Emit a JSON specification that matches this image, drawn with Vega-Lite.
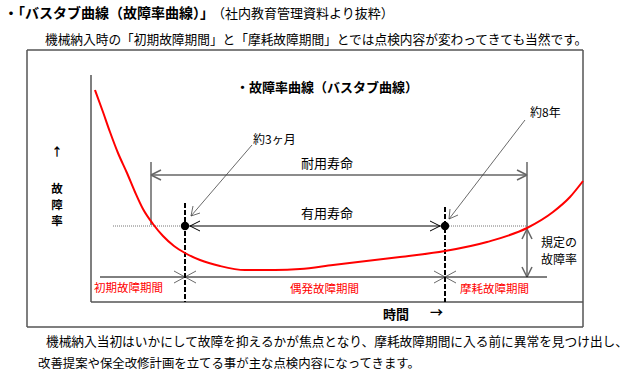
{
  "$schema": "https://vega.github.io/schema/vega-lite/v6.json",
  "width": 630,
  "height": 377,
  "padding": 0,
  "autosize": {"type": "fit", "contains": "padding"},
  "background": "white",
  "config": {"view": {"stroke": null}, "font": "Noto Sans CJK JP"},
  "datasets": {
    "frame": [
      {"x": 27, "y": 50, "x2": 583, "y2": 50},
      {"x": 27, "y": 50, "x2": 27, "y2": 327},
      {"x": 583, "y": 50, "x2": 583, "y2": 327},
      {"x": 27, "y": 327, "x2": 583, "y2": 327},
      {"x": 91, "y": 75, "x2": 91, "y2": 302},
      {"x": 91, "y": 302, "x2": 583, "y2": 302}
    ],
    "life": [
      {"x": 151, "y": 162, "x2": 151, "y2": 225},
      {"x": 151, "y": 175, "x2": 527, "y2": 175},
      {"x": 527, "y": 162, "x2": 527, "y2": 277},
      {"x": 151, "y": 175, "x2": 161, "y2": 170},
      {"x": 151, "y": 175, "x2": 161, "y2": 180},
      {"x": 527, "y": 175, "x2": 517, "y2": 170},
      {"x": 527, "y": 175, "x2": 517, "y2": 180},
      {"x": 527, "y": 229, "x2": 522, "y2": 239},
      {"x": 527, "y": 229, "x2": 532, "y2": 239},
      {"x": 527, "y": 277, "x2": 522, "y2": 267},
      {"x": 527, "y": 277, "x2": 532, "y2": 267}
    ],
    "thin": [
      {"x": 100, "y": 277, "x2": 547, "y2": 277},
      {"x": 185, "y": 226, "x2": 445, "y2": 226},
      {"x": 190, "y": 226, "x2": 200, "y2": 221},
      {"x": 190, "y": 226, "x2": 200, "y2": 231},
      {"x": 440, "y": 226, "x2": 430, "y2": 221},
      {"x": 440, "y": 226, "x2": 430, "y2": 231}
    ],
    "leaders": [
      {"x": 252, "y": 145, "x2": 191, "y2": 216},
      {"x": 191, "y": 216, "x2": 200, "y2": 213},
      {"x": 191, "y": 216, "x2": 193, "y2": 206},
      {"x": 525, "y": 120, "x2": 449, "y2": 219},
      {"x": 449, "y": 219, "x2": 458, "y2": 215},
      {"x": 449, "y": 219, "x2": 450, "y2": 209},
      {"x": 185, "y": 277, "x2": 174, "y2": 271},
      {"x": 185, "y": 277, "x2": 174, "y2": 283},
      {"x": 185, "y": 277, "x2": 196, "y2": 271},
      {"x": 185, "y": 277, "x2": 196, "y2": 283},
      {"x": 445, "y": 277, "x2": 434, "y2": 271},
      {"x": 445, "y": 277, "x2": 434, "y2": 283},
      {"x": 445, "y": 277, "x2": 456, "y2": 271},
      {"x": 445, "y": 277, "x2": 456, "y2": 283}
    ],
    "dashed": [
      {"x": 185, "y": 203, "x2": 185, "y2": 302},
      {"x": 445, "y": 207, "x2": 445, "y2": 302}
    ],
    "dotted": [
      {"x": 113, "y": 226, "x2": 185, "y2": 226},
      {"x": 445, "y": 226, "x2": 527, "y2": 226}
    ],
    "dots": [
      {"x": 185, "y": 226},
      {"x": 445, "y": 226}
    ],
    "curve": [
      {"x": 95, "y": 90}, {"x": 103, "y": 112}, {"x": 110, "y": 132},
      {"x": 118, "y": 153}, {"x": 127, "y": 173}, {"x": 135, "y": 192},
      {"x": 143, "y": 209}, {"x": 153, "y": 224}, {"x": 163, "y": 236},
      {"x": 174, "y": 246}, {"x": 185, "y": 253}, {"x": 200, "y": 260},
      {"x": 220, "y": 266}, {"x": 245, "y": 270}, {"x": 275, "y": 270},
      {"x": 300, "y": 269}, {"x": 333, "y": 265}, {"x": 400, "y": 257},
      {"x": 445, "y": 251}, {"x": 487, "y": 242}, {"x": 527, "y": 228},
      {"x": 553, "y": 212}, {"x": 570, "y": 197}, {"x": 583, "y": 181}
    ],
    "titleBold": [
      {"x": 4, "y": 14, "t": "・「バスタブ曲線（故障率曲線）」"}
    ],
    "titleBold2": [
      {"x": 236, "y": 88, "t": "・故障率曲線（バスタブ曲線）"}
    ],
    "titleNote": [
      {"x": 212, "y": 14, "t": "（社内教育管理資料より抜粋）"}
    ],
    "body": [
      {"x": 45, "y": 40, "t": "機械納入時の「初期故障期間」と「摩耗故障期間」とでは点検内容が変わってきても当然です。"},
      {"x": 46, "y": 342, "t": "機械納入当初はいかにして故障を抑えるかが焦点となり、摩耗故障期間に入る前に異常を見つけ出し、"}
    ],
    "body2": [
      {"x": 38, "y": 364, "t": "改善提案や保全改修計画を立てる事が主な点検内容になってきます。"}
    ],
    "labelsLeft": [
      {"x": 253, "y": 140, "t": "約3ヶ月"},
      {"x": 530, "y": 113, "t": "約8年"},
      {"x": 541, "y": 243, "t": "規定の"},
      {"x": 541, "y": 260, "t": "故障率"}
    ],
    "labelsCenter": [
      {"x": 327, "y": 164, "t": "耐用寿命"},
      {"x": 327, "y": 214, "t": "有用寿命"}
    ],
    "redLabels": [
      {"x": 94, "y": 289, "t": "初期故障期間"},
      {"x": 290, "y": 290, "t": "偶発故障期間"},
      {"x": 460, "y": 290, "t": "摩耗故障期間"}
    ],
    "axisBoldCenter": [
      {"x": 57, "y": 153, "t": "↑"},
      {"x": 57, "y": 190, "t": "故"},
      {"x": 57, "y": 206, "t": "障"},
      {"x": 57, "y": 222, "t": "率"}
    ],
    "axisBoldLeft": [
      {"x": 383, "y": 315, "t": "時間"},
      {"x": 430, "y": 313, "t": "→"}
    ]
  },
  "encoding": {
    "x": {"field": "x", "type": "quantitative", "scale": {"domain": [0, 630], "nice": false, "zero": false}, "axis": null},
    "y": {"field": "y", "type": "quantitative", "scale": {"domain": [0, 377], "nice": false, "zero": false, "reverse": true}, "axis": null}
  },
  "layer": [
    {
      "data": {"name": "frame"},
      "mark": {"type": "rule", "color": "#555555", "strokeWidth": 1.5},
      "encoding": {"x2": {"field": "x2"}, "y2": {"field": "y2"}}
    },
    {
      "data": {"name": "dotted"},
      "mark": {"type": "rule", "color": "#777777", "strokeWidth": 1, "strokeDash": [1, 1]},
      "encoding": {"x2": {"field": "x2"}, "y2": {"field": "y2"}}
    },
    {
      "data": {"name": "life"},
      "mark": {"type": "rule", "color": "#666666", "strokeWidth": 1.5},
      "encoding": {"x2": {"field": "x2"}, "y2": {"field": "y2"}}
    },
    {
      "data": {"name": "thin"},
      "mark": {"type": "rule", "color": "#000000", "strokeWidth": 1},
      "encoding": {"x2": {"field": "x2"}, "y2": {"field": "y2"}}
    },
    {
      "data": {"name": "leaders"},
      "mark": {"type": "rule", "color": "#444444", "strokeWidth": 0.8},
      "encoding": {"x2": {"field": "x2"}, "y2": {"field": "y2"}}
    },
    {
      "data": {"name": "dashed"},
      "mark": {"type": "rule", "color": "#000000", "strokeWidth": 2, "strokeDash": [5, 2]},
      "encoding": {"x2": {"field": "x2"}, "y2": {"field": "y2"}}
    },
    {
      "data": {"name": "curve"},
      "mark": {"type": "line", "color": "#ff0000", "strokeWidth": 2, "interpolate": "monotone"},
      "encoding": {}
    },
    {
      "data": {"name": "dots"},
      "mark": {"type": "circle", "color": "#000000", "opacity": 1, "size": 70},
      "encoding": {}
    },
    {
      "data": {"name": "titleBold"},
      "mark": {"type": "text", "align": "left", "baseline": "middle", "fontSize": 14, "fontWeight": "bold", "color": "#000000"},
      "encoding": {"text": {"field": "t"}}
    },
    {
      "data": {"name": "titleBold2"},
      "mark": {"type": "text", "align": "left", "baseline": "middle", "fontSize": 13, "fontWeight": "bold", "color": "#000000"},
      "encoding": {"text": {"field": "t"}}
    },
    {
      "data": {"name": "titleNote"},
      "mark": {"type": "text", "align": "left", "baseline": "middle", "fontSize": 13, "color": "#000000"},
      "encoding": {"text": {"field": "t"}}
    },
    {
      "data": {"name": "body"},
      "mark": {"type": "text", "align": "left", "baseline": "middle", "fontSize": 12.7, "color": "#000000"},
      "encoding": {"text": {"field": "t"}}
    },
    {
      "data": {"name": "body2"},
      "mark": {"type": "text", "align": "left", "baseline": "middle", "fontSize": 12.4, "color": "#000000"},
      "encoding": {"text": {"field": "t"}}
    },
    {
      "data": {"name": "labelsLeft"},
      "mark": {"type": "text", "align": "left", "baseline": "middle", "fontSize": 12, "color": "#000000"},
      "encoding": {"text": {"field": "t"}}
    },
    {
      "data": {"name": "labelsCenter"},
      "mark": {"type": "text", "align": "center", "baseline": "middle", "fontSize": 13, "color": "#000000"},
      "encoding": {"text": {"field": "t"}}
    },
    {
      "data": {"name": "redLabels"},
      "mark": {"type": "text", "align": "left", "baseline": "middle", "fontSize": 11.5, "color": "#ff0000"},
      "encoding": {"text": {"field": "t"}}
    },
    {
      "data": {"name": "axisBoldCenter"},
      "mark": {"type": "text", "align": "center", "baseline": "middle", "fontSize": 11.5, "fontWeight": "bold", "color": "#000000"},
      "encoding": {"text": {"field": "t"}}
    },
    {
      "data": {"name": "axisBoldLeft"},
      "mark": {"type": "text", "align": "left", "baseline": "middle", "fontSize": 13, "fontWeight": "bold", "color": "#000000"},
      "encoding": {"text": {"field": "t"}}
    }
  ]
}
